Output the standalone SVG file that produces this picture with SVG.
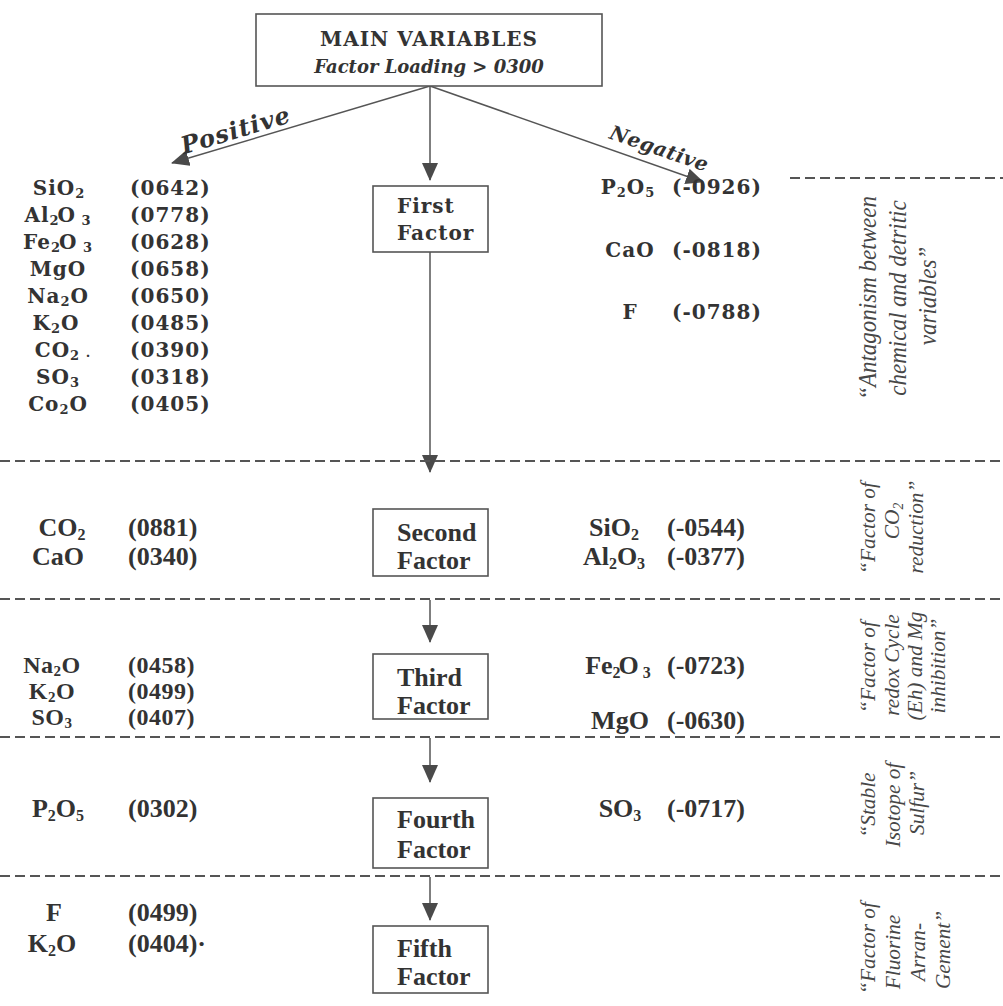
<svg xmlns="http://www.w3.org/2000/svg" width="1003" height="1006" viewBox="0 0 1003 1006">
<defs>
<marker id="ahb" markerWidth="18" markerHeight="16" refX="17" refY="8" orient="auto" markerUnits="userSpaceOnUse" viewBox="0 0 18 16">
<path d="M0,0 L18,8 L0,16 Z" fill="#4a4a4a"/>
</marker>
<style>
.box{fill:#fff;stroke:#555;stroke-width:1.6}
.ln{stroke:#555;stroke-width:1.5;fill:none}
.dash{stroke:#555;stroke-width:1.8;stroke-dasharray:10 5;fill:none}
.d{font-family:"DejaVu Serif",serif;font-weight:bold;fill:#333;font-size:20px;letter-spacing:1px}
.t{font-family:"Liberation Serif",serif;font-weight:bold;fill:#333;font-size:26px}
.t3{font-size:24px;letter-spacing:0.5px}
.c{text-anchor:middle}
.sd{font-size:13px}
.st{font-size:16px}
.s3{font-size:15px}
.di{font-family:"DejaVu Serif",serif;font-weight:bold;font-style:italic;fill:#333}
.rot{font-family:"Liberation Serif",serif;font-style:italic;fill:#474747;text-anchor:middle}
.r1{font-size:25px}
.r2{font-size:22px}
</style>
</defs>
<rect width="1003" height="1006" fill="#fff"/>

<g id="connectors">
<line class="ln" x1="430" y1="86" x2="430" y2="180" marker-end="url(#ahb)"/>
<line class="ln" x1="430" y1="86" x2="172" y2="163" marker-end="url(#ahb)"/>
<line class="ln" x1="430" y1="86" x2="703" y2="182" marker-end="url(#ahb)"/>
<line class="ln" x1="430" y1="252" x2="430" y2="472" marker-end="url(#ahb)"/>
<line class="ln" x1="430" y1="600" x2="430" y2="642" marker-end="url(#ahb)"/>
<line class="ln" x1="430" y1="738" x2="430" y2="782" marker-end="url(#ahb)"/>
<line class="ln" x1="430" y1="877" x2="430" y2="920" marker-end="url(#ahb)"/>
<line class="dash" x1="790" y1="178" x2="1003" y2="178"/>
<line class="dash" x1="0" y1="461" x2="1003" y2="461"/>
<line class="dash" x1="0" y1="599" x2="1003" y2="599"/>
<line class="dash" x1="0" y1="737" x2="1003" y2="737"/>
<line class="dash" x1="0" y1="876" x2="1003" y2="876"/>
<text class="di" font-size="24" letter-spacing="1" text-anchor="middle" transform="translate(238,138) rotate(-16.7)">Positive</text>
<text class="di" font-size="20" letter-spacing="0.5" text-anchor="middle" transform="translate(657,155) rotate(19)">Negative</text>
</g>

<g id="main">
<rect class="box" x="256" y="14" width="346" height="72"/>
<text class="d c" x="429" y="46" font-size="25" letter-spacing="0">MAIN VARIABLES</text>
<text class="di" x="429" y="73" font-size="18" text-anchor="middle">Factor Loading &gt; 0300</text>
</g>

<g id="first-factor">
<rect class="box" x="373" y="186" width="115" height="66"/>
<text class="d" x="397" y="213">First</text>
<text class="d" x="397" y="240">Factor</text>
</g>

<g id="second-factor">
<rect class="box" x="373" y="509" width="115" height="67"/>
<text class="t" x="397" y="541">Second</text>
<text class="t" x="397" y="569">Factor</text>
</g>

<g id="third-factor">
<rect class="box" x="373" y="654" width="115" height="65"/>
<text class="t" x="397" y="686">Third</text>
<text class="t" x="397" y="714">Factor</text>
</g>

<g id="fourth-factor">
<rect class="box" x="373" y="798" width="115" height="70"/>
<text class="t" x="397" y="828">Fourth</text>
<text class="t" x="397" y="858">Factor</text>
</g>

<g id="fifth-factor">
<rect class="box" x="373" y="926" width="115" height="67"/>
<text class="t" x="397" y="957">Fifth</text>
<text class="t" x="397" y="985">Factor</text>
</g>

<g id="first-positive">
<text class="d c" x="59" y="195">SiO<tspan class="sd" dy="3">2</tspan></text>
<text class="d" x="130" y="195">(0642)</text>
<text class="d c" x="58" y="222">Al<tspan class="sd" dy="3">2</tspan><tspan dx="-2" dy="-3">O</tspan><tspan class="sd" dy="3"> 3</tspan></text>
<text class="d" x="130" y="222">(0778)</text>
<text class="d c" x="58" y="249">Fe<tspan class="sd" dy="3">2</tspan><tspan dx="-2" dy="-3">O</tspan><tspan class="sd" dy="3"> 3</tspan></text>
<text class="d" x="130" y="249">(0628)</text>
<text class="d c" x="58" y="276">MgO</text>
<text class="d" x="130" y="276">(0658)</text>
<text class="d c" x="58" y="303">Na<tspan class="sd" dy="3">2</tspan><tspan dy="-3">O</tspan></text>
<text class="d" x="130" y="303">(0650)</text>
<text class="d c" x="56" y="330">K<tspan class="sd" dy="3">2</tspan><tspan dy="-3">O</tspan></text>
<text class="d" x="130" y="330">(0485)</text>
<text class="d c" x="63" y="357">CO<tspan class="sd" dy="3">2</tspan><tspan class="sd" dy="-3"> .</tspan></text>
<text class="d" x="130" y="357">(0390)</text>
<text class="d c" x="58" y="384">SO<tspan class="sd" dy="3">3</tspan></text>
<text class="d" x="130" y="384">(0318)</text>
<text class="d c" x="58" y="411">Co<tspan class="sd" dy="3">2</tspan><tspan dy="-3">O</tspan></text>
<text class="d" x="130" y="411">(0405)</text>
</g>

<g id="first-negative">
<text class="d c" x="628" y="194">P<tspan class="sd" dy="3">2</tspan><tspan dy="-3">O</tspan><tspan class="sd" dy="3">5</tspan></text>
<text class="d" x="672" y="194">(-0926)</text>
<text class="d c" x="630" y="257">CaO</text>
<text class="d" x="672" y="257">(-0818)</text>
<text class="d c" x="630" y="319">F</text>
<text class="d" x="672" y="319">(-0788)</text>
</g>

<g id="second-values">
<text class="t c" x="62" y="536">CO<tspan class="st" dy="4">2</tspan></text>
<text class="t" x="128" y="536">(0881)</text>
<text class="t c" x="58" y="565">CaO</text>
<text class="t" x="128" y="565">(0340)</text>
<text class="t c" x="614" y="536">SiO<tspan class="st" dy="4">2</tspan></text>
<text class="t" x="667" y="536">(-0544)</text>
<text class="t c" x="614" y="565">Al<tspan class="st" dy="4">2</tspan><tspan dy="-4">O</tspan><tspan class="st" dy="4">3</tspan></text>
<text class="t" x="667" y="565">(-0377)</text>
</g>

<g id="third-values">
<text class="t t3 c" x="52" y="673">Na<tspan class="s3" dy="3">2</tspan><tspan dy="-3">O</tspan></text>
<text class="t t3" x="128" y="673">(0458)</text>
<text class="t t3 c" x="52" y="699">K<tspan class="s3" dy="3">2</tspan><tspan dy="-3">O</tspan></text>
<text class="t t3" x="128" y="699">(0499)</text>
<text class="t t3 c" x="52" y="725">SO<tspan class="s3" dy="3">3</tspan></text>
<text class="t t3" x="128" y="725">(0407)</text>
<text class="t c" x="618" y="674">Fe<tspan class="st" dy="4">2</tspan><tspan dx="-2" dy="-4">O</tspan><tspan class="st" dy="4"> 3</tspan></text>
<text class="t" x="667" y="674">(-0723)</text>
<text class="t c" x="620" y="729">MgO</text>
<text class="t" x="667" y="729">(-0630)</text>
</g>

<g id="fourth-values">
<text class="t c" x="58" y="817">P<tspan class="st" dy="4">2</tspan><tspan dy="-4">O</tspan><tspan class="st" dy="4">5</tspan></text>
<text class="t" x="128" y="817">(0302)</text>
<text class="t c" x="620" y="817">SO<tspan class="st" dy="4">3</tspan></text>
<text class="t" x="667" y="817">(-0717)</text>
</g>

<g id="fifth-values">
<text class="t c" x="54" y="921">F</text>
<text class="t" x="128" y="921">(0499)</text>
<text class="t c" x="52" y="952">K<tspan class="st" dy="4">2</tspan><tspan dy="-4">O</tspan></text>
<text class="t" x="128" y="952">(0404)·</text>
</g>

<g id="label-1">
<text class="rot r1" transform="translate(876,298) rotate(-90) scale(0.92,1)">“Antagonism between</text>
<text class="rot r1" transform="translate(906,298) rotate(-90) scale(0.92,1)">chemical and detritic</text>
<text class="rot r1" transform="translate(936,296) rotate(-90) scale(0.92,1)">variables”</text>
</g>
<g id="label-2">
<text class="rot r2" transform="translate(875,528) rotate(-90) scale(0.97,1)">“Factor of</text>
<text class="rot r2" transform="translate(899,521) rotate(-90) scale(0.97,1)">CO<tspan font-size="14" dy="4">2</tspan></text>
<text class="rot r2" transform="translate(923,527) rotate(-90) scale(0.97,1)">reduction”</text>
</g>
<g id="label-3">
<text class="rot r2" transform="translate(875,667) rotate(-90) scale(0.97,1)">“Factor of</text>
<text class="rot r2" transform="translate(899,665) rotate(-90) scale(0.97,1)">redox Cycle</text>
<text class="rot r2" transform="translate(922,666) rotate(-90) scale(0.97,1)">(Eh) and Mg</text>
<text class="rot r2" transform="translate(945,666) rotate(-90) scale(0.97,1)">inhibition”</text>
</g>
<g id="label-4">
<text class="rot r2" transform="translate(875,805) rotate(-90) scale(0.97,1)">“Stable</text>
<text class="rot r2" transform="translate(900,805) rotate(-90) scale(0.97,1)">Isotope of</text>
<text class="rot r2" transform="translate(924,803) rotate(-90) scale(0.97,1)">Sulfur”</text>
</g>
<g id="label-5">
<text class="rot r2" transform="translate(875,948) rotate(-90) scale(0.97,1)">“Factor of</text>
<text class="rot r2" transform="translate(900,952) rotate(-90) scale(0.97,1)">Fluorine</text>
<text class="rot r2" transform="translate(925,952) rotate(-90) scale(0.97,1)">Arran-</text>
<text class="rot r2" transform="translate(950,950) rotate(-90) scale(0.97,1)">Gement”</text>
</g>
</svg>
